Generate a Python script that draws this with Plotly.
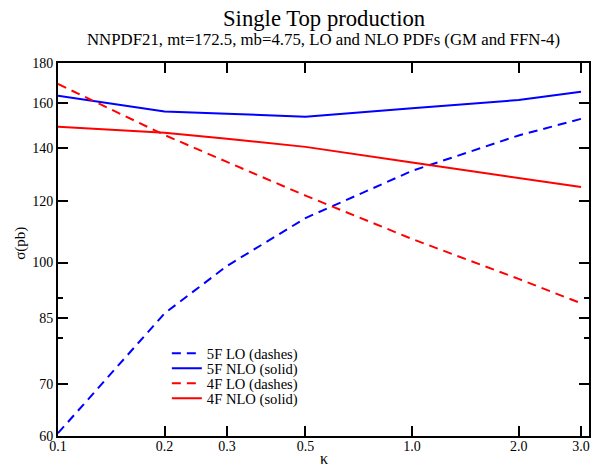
import plotly.graph_objects as go

kappa = [0.1, 0.2, 0.3, 0.5, 1.0, 2.0, 3.0]
lo_5f = [60.5, 86.1, 99.0, 114.0, 131.0, 145.4, 152.7]
nlo_5f = [163.5, 156.0, 155.0, 153.7, 157.5, 161.4, 165.4]
lo_4f = [169.2, 145.6, 134.5, 121.8, 107.2, 95.3, 88.7]
nlo_4f = [149.2, 146.6, 144.0, 140.6, 134.3, 128.3, 124.9]

x_tickvals = [0.1, 0.2, 0.3, 0.5, 1.0, 2.0, 3.0]
x_ticktext = ["0.1", "0.2", "0.3", "0.5", "1.0", "2.0", "3.0"]
y_tickvals = [60, 70, 85, 100, 120, 140, 160, 180]
y_ticktext = ["60", "70", "85", "100", "120", "140", "160", "180"]
y_minor = [80, 90]

FONT = "Liberation Serif"
BLUE = "#0000ff"
RED = "#ff0000"
DASH = "9px,6px"

series = [
    ("5F LO (dashes)", lo_5f, BLUE, DASH, "legend"),
    ("5F NLO (solid)", nlo_5f, BLUE, "solid", "legend2"),
    ("4F LO (dashes)", lo_4f, RED, DASH, "legend3"),
    ("4F NLO (solid)", nlo_4f, RED, "solid", "legend4"),
]

fig = go.Figure()
for name, vals, col, dash, leg in series:
    fig.add_trace(go.Scatter(x=kappa, y=vals, mode="lines", name=name, legend=leg,
                             line=dict(color=col, width=2, dash=dash)))

axis_common = dict(showline=True, linecolor="black", linewidth=2, mirror="allticks",
                   ticks="inside", ticklen=10, tickwidth=1.5, tickcolor="black",
                   showgrid=False, zeroline=False,
                   tickfont=dict(family=FONT, size=14, color="black"))

fig.update_xaxes(type="log", range=[-1, 0.4997], tickvals=x_tickvals, ticktext=x_ticktext,
                 ticklabelstandoff=-4, **axis_common)
fig.update_yaxes(type="log", range=[1.77815, 2.25527], tickvals=y_tickvals, ticktext=y_ticktext,
                 minor=dict(tickvals=y_minor, ticks="inside", ticklen=5, tickwidth=1.5,
                            tickcolor="black", showgrid=False),
                 **axis_common)

leg_common = dict(x=0.205, xanchor="left", yanchor="middle",
                  bgcolor="rgba(0,0,0,0)", borderwidth=0,
                  font=dict(family=FONT, size=14.6, color="black"), itemwidth=30)
legend_rows = [0.2217, 0.1814, 0.1412, 0.1010]

fig.update_layout(
    width=594, height=468,
    margin=dict(l=58, r=3, t=63, b=32, pad=0),
    paper_bgcolor="white", plot_bgcolor="white",
    font=dict(family=FONT, color="black"),
    showlegend=True,
    legend=dict(y=legend_rows[0], **leg_common),
    legend2=dict(y=legend_rows[1], **leg_common),
    legend3=dict(y=legend_rows[2], **leg_common),
    legend4=dict(y=legend_rows[3], **leg_common),
    annotations=[
        dict(text="Single Top production", xref="paper", yref="paper", x=0.5, y=1.1206,
             xanchor="center", yanchor="middle", showarrow=False,
             font=dict(family=FONT, size=22.7, color="black")),
        dict(text="NNPDF21, mt=172.5, mb=4.75, LO and NLO PDFs (GM and FFN-4)",
             xref="paper", yref="paper", x=0.5, y=1.0643,
             xanchor="center", yanchor="middle", showarrow=False,
             font=dict(family=FONT, size=16.8, color="black")),
        dict(text="κ", xref="paper", yref="paper", x=0.5, y=-0.059,
             xanchor="center", yanchor="middle", showarrow=False,
             font=dict(family=FONT, size=16, color="black")),
        dict(text="σ(pb)", xref="paper", yref="paper", x=-0.0722, y=0.517,
             xanchor="center", yanchor="middle", showarrow=False, textangle=-90,
             font=dict(family=FONT, size=15, color="black")),
    ],
)

fig.write_html("out.html")
